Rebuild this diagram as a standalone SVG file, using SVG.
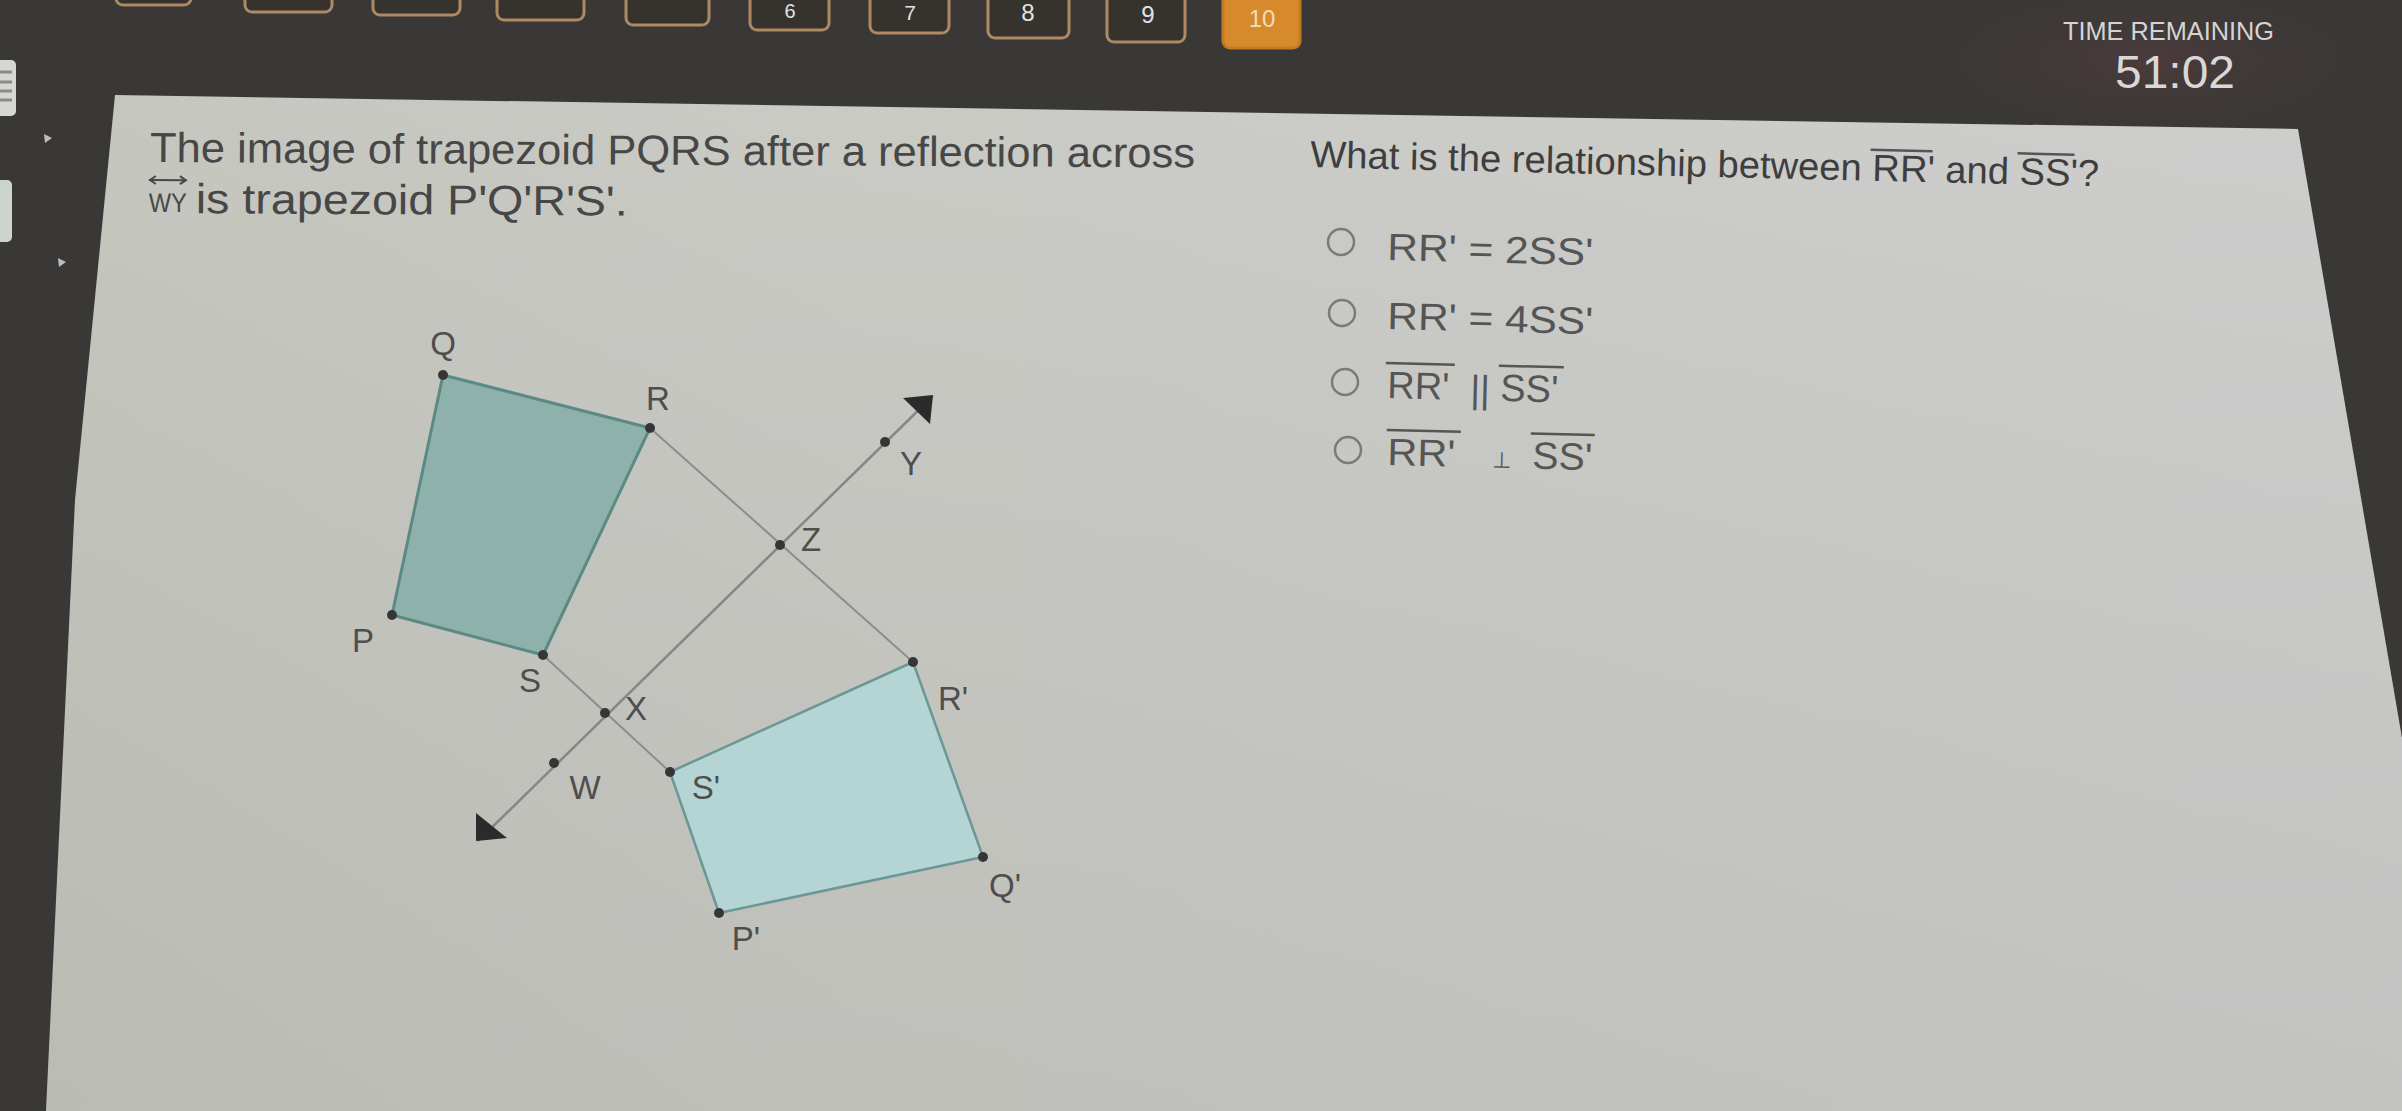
<svg xmlns="http://www.w3.org/2000/svg" width="2402" height="1111" viewBox="0 0 2402 1111">
<defs>
<linearGradient id="panelGrad" x1="0" y1="0" x2="1" y2="0">
<stop offset="0" stop-color="#c2c3bb"/>
<stop offset="0.35" stop-color="#c7c8c2"/>
<stop offset="1" stop-color="#cbcbca"/>
</linearGradient>
<linearGradient id="panelShade" x1="0" y1="0" x2="0" y2="1">
<stop offset="0" stop-color="#ffffff" stop-opacity="0.05"/>
<stop offset="1" stop-color="#000000" stop-opacity="0.04"/>
</linearGradient>
<radialGradient id="timerGlow" cx="0.5" cy="0.5" r="0.5">
<stop offset="0" stop-color="#4c3b3c"/>
<stop offset="1" stop-color="#3a3837" stop-opacity="0"/>
</radialGradient>
</defs>
<style>
.txt{font-family:"Liberation Sans",Arial,sans-serif;fill:#474747}
.q{font-size:42px}
.rq{font-size:37.6px;fill:#3e3e3e}
.opt{font-size:38px;fill:#555555}
.lbl{font-family:"Liberation Sans",Arial,sans-serif;font-size:33px;fill:#4e4e4e;text-anchor:middle}
.pt{fill:#363636}
.btn{fill:#36332f;stroke:#ad8a62;stroke-width:3}
.dig{font-family:"Liberation Sans",Arial,sans-serif;font-size:24px;fill:#e2e2e2;text-anchor:middle}
.ovl{stroke:#555555;stroke-width:2.5}
.radio{fill:none;stroke:#7a7a7a;stroke-width:2.5}
.conn{stroke:#8d8d8d;stroke-width:2;fill:none}
.axis{stroke:#868686;stroke-width:2.5;fill:none}
.head{fill:#2b2b2b}
</style>

<g id="background">
<rect x="0" y="0" width="2402" height="1111" fill="#3a3836"/>
<ellipse cx="2150" cy="60" rx="260" ry="90" fill="url(#timerGlow)"/>
<polygon points="115,95 2298,129 2402,738 2402,1111 46,1111 75,500" fill="url(#panelGrad)"/>
<polygon points="115,95 2298,129 2402,738 2402,1111 46,1111 75,500" fill="url(#panelShade)"/>
<rect x="-6" y="60" width="22" height="56" rx="5" fill="#d6d6d4"/>
<g stroke="#8a8a88" stroke-width="3">
<line x1="0" y1="72" x2="12" y2="72"/>
<line x1="0" y1="82" x2="12" y2="82"/>
<line x1="0" y1="91" x2="12" y2="91"/>
<line x1="0" y1="100" x2="12" y2="100"/>
</g>
<rect x="-6" y="180" width="18" height="62" rx="5" fill="#cdd4cc"/>
<polygon points="44,134 52,138 45,143" fill="#bdbdbd"/>
<polygon points="58,258 66,262 59,267" fill="#bdbdbd"/>
</g>

<g id="topbar">
<rect class="btn" x="116" y="-40" width="75" height="45" rx="7"/>
<rect class="btn" x="245" y="-40" width="87" height="52" rx="7"/>
<rect class="btn" x="373" y="-40" width="87" height="55" rx="7"/>
<rect class="btn" x="497" y="-40" width="87" height="60" rx="7"/>
<rect class="btn" x="626" y="-40" width="83" height="65" rx="7"/>
<rect class="btn" x="750" y="-40" width="79" height="70" rx="7"/>
<rect class="btn" x="870" y="-40" width="79" height="73" rx="7"/>
<rect class="btn" x="988" y="-40" width="81" height="78" rx="7"/>
<rect class="btn" x="1107" y="-40" width="78" height="82" rx="7"/>
<rect x="1223" y="-40" width="77" height="88" rx="7" fill="#d78a2c" stroke="#c47a22" stroke-width="3"/>
<text class="dig" x="790" y="18" style="font-size:20px">6</text>
<text class="dig" x="910" y="20" style="font-size:21px">7</text>
<text class="dig" x="1028" y="21">8</text>
<text class="dig" x="1148" y="23">9</text>
<text class="dig" x="1262" y="27" style="fill:#f4dcb4">10</text>
</g>

<g id="timer">
<text x="2063" y="40" font-family="Liberation Sans, Arial, sans-serif" font-size="25" fill="#d4d4d4" textLength="211" lengthAdjust="spacingAndGlyphs">TIME REMAINING</text>
<text x="2115" y="88" font-family="Liberation Sans, Arial, sans-serif" font-size="46" fill="#d8d8d8" textLength="120" lengthAdjust="spacingAndGlyphs">51:02</text>
</g>

<g id="prompt" transform="rotate(0.3 150 162)">
<text class="txt q" x="150" y="162" textLength="1045" lengthAdjust="spacingAndGlyphs">The image of trapezoid PQRS after a reflection across</text>
<text class="txt" x="149" y="212" font-size="27" textLength="38" lengthAdjust="spacingAndGlyphs">WY</text>
<g stroke="#474747" stroke-width="2" fill="none">
<line x1="150" y1="180" x2="186" y2="180"/>
<polyline points="156,176 150,180 156,184"/>
<polyline points="180,176 186,180 180,184"/>
</g>
<text class="txt q" x="196" y="213" textLength="432" lengthAdjust="spacingAndGlyphs">is trapezoid P'Q'R'S'.</text>
</g>

<g id="question" transform="rotate(1.4 1310 167)">
<text class="txt rq" x="1310" y="167" textLength="789" lengthAdjust="spacingAndGlyphs">What is the relationship between RR' and SS'?</text>
<line class="ovl" x1="1870" y1="136" x2="1932" y2="136"/>
<line class="ovl" x1="2017" y1="136" x2="2074" y2="136"/>
</g>

<g id="options">
<g id="option-1">
<circle class="radio" cx="1341" cy="242" r="13"/>
<text class="txt opt" x="1387" y="260" transform="rotate(1.4 1387 260)" textLength="206" lengthAdjust="spacingAndGlyphs">RR' = 2SS'</text>
</g>
<g id="option-2">
<circle class="radio" cx="1342" cy="313" r="13"/>
<text class="txt opt" x="1387" y="329" transform="rotate(1.4 1387 329)" textLength="206" lengthAdjust="spacingAndGlyphs">RR' = 4SS'</text>
</g>
<g id="option-3">
<circle class="radio" cx="1345" cy="382" r="13"/>
<g transform="rotate(1.4 1387 398)">
<text class="txt opt" x="1387" y="398">RR'</text>
<text class="txt opt" x="1470" y="400">||</text>
<text class="txt opt" x="1500" y="398">SS'</text>
<line class="ovl" x1="1385" y1="363" x2="1454" y2="363"/>
<line class="ovl" x1="1498" y1="363" x2="1563" y2="363"/>
</g>
</g>
<g id="option-4">
<circle class="radio" cx="1348" cy="450" r="13"/>
<g transform="rotate(1.4 1387 465)">
<text class="txt opt" x="1387" y="465" textLength="68" lengthAdjust="spacingAndGlyphs">RR'</text>
<text x="1492" y="465" font-family="DejaVu Sans, sans-serif" font-size="22" fill="#555555">⊥</text>
<text class="txt opt" x="1532" y="465" textLength="60" lengthAdjust="spacingAndGlyphs">SS'</text>
<line class="ovl" x1="1386" y1="430" x2="1460" y2="430"/>
<line class="ovl" x1="1530" y1="430" x2="1594" y2="430"/>
</g>
</g>
</g>

<g id="connectors">
<line class="conn" x1="650" y1="428" x2="913" y2="662"/>
<line class="conn" x1="543" y1="655" x2="670" y2="772"/>
<line class="axis" x1="478" y1="841" x2="933" y2="396"/>
<polygon class="head" points="933,395 903,398 930,424"/>
<polygon class="head" points="476,841 476,813 507,838"/>
</g>

<g id="node-PQRS">
<polygon points="443,375 650,428 543,655 392,615" fill="#8eb2ab" stroke="#5b8a85" stroke-width="3" stroke-linejoin="round"/>
</g>
<g id="node-PQRS-prime">
<polygon points="913,662 983,857 719,913 670,772" fill="#b5d5d4" stroke="#6b9896" stroke-width="2.5" stroke-linejoin="round"/>
</g>

<g id="node-Q"><circle class="pt" cx="443" cy="375" r="5"/><text class="lbl" x="443" y="355">Q</text></g>
<g id="node-R"><circle class="pt" cx="650" cy="428" r="5"/><text class="lbl" x="658" y="410">R</text></g>
<g id="node-P"><circle class="pt" cx="392" cy="615" r="5"/><text class="lbl" x="363" y="652">P</text></g>
<g id="node-S"><circle class="pt" cx="543" cy="655" r="5"/><text class="lbl" x="530" y="692">S</text></g>
<g id="node-Y"><circle class="pt" cx="885" cy="442" r="5"/><text class="lbl" x="911" y="475">Y</text></g>
<g id="node-Z"><circle class="pt" cx="780" cy="545" r="5"/><text class="lbl" x="811" y="551">Z</text></g>
<g id="node-X"><circle class="pt" cx="605" cy="713" r="5"/><text class="lbl" x="636" y="720">X</text></g>
<g id="node-W"><circle class="pt" cx="554" cy="763" r="5"/><text class="lbl" x="585" y="799">W</text></g>
<g id="node-S-prime"><circle class="pt" cx="670" cy="772" r="5"/><text class="lbl" x="706" y="799">S'</text></g>
<g id="node-R-prime"><circle class="pt" cx="913" cy="662" r="5"/><text class="lbl" x="953" y="710">R'</text></g>
<g id="node-Q-prime"><circle class="pt" cx="983" cy="857" r="5"/><text class="lbl" x="1005" y="897">Q'</text></g>
<g id="node-P-prime"><circle class="pt" cx="719" cy="913" r="5"/><text class="lbl" x="746" y="950">P'</text></g>
</svg>
